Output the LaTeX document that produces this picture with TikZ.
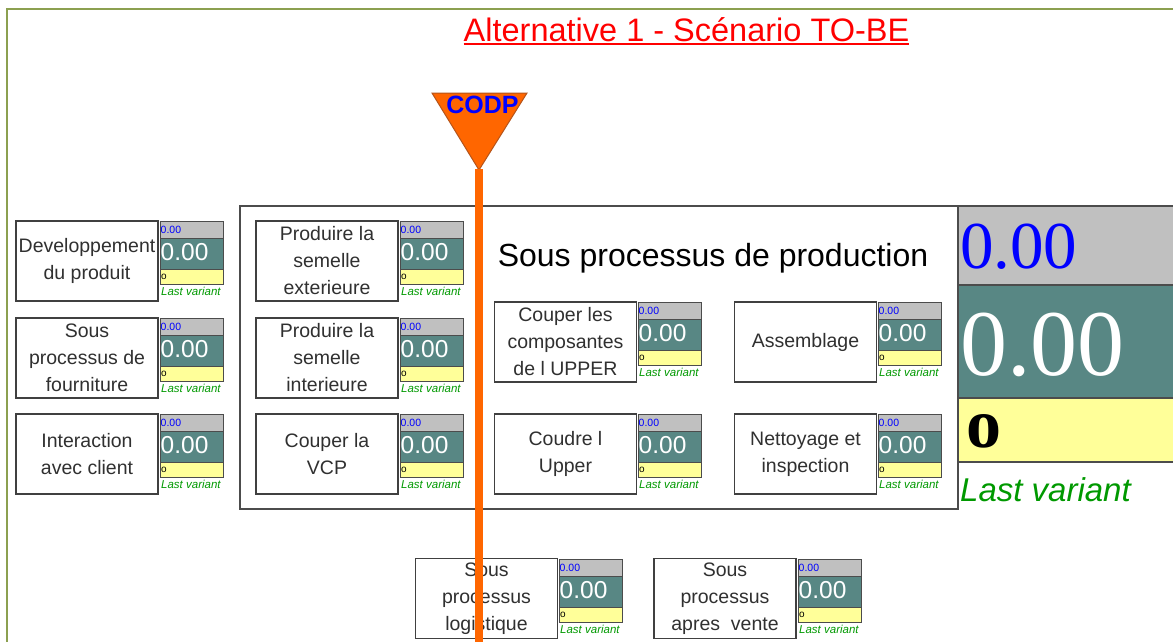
\documentclass[tikz,border=0pt]{standalone}
\usepackage{fontspec}
\setmainfont{Liberation Sans}
\newfontfamily\tmsfont{Liberation Serif}
\definecolor{olivebd}{HTML}{8CA050}
\definecolor{kteal}{HTML}{588784}
\definecolor{kgray}{HTML}{C0C0C0}
\definecolor{kyel}{HTML}{FFFF99}
\definecolor{kgreen}{HTML}{009900}
\definecolor{codporange}{HTML}{FF6600}
\definecolor{codpedge}{HTML}{B5541A}
\definecolor{boxtext}{HTML}{303030}
\newcommand{\kpi}[3]{%
  \path[draw=black!70,line width=0.9pt,fill=kgray] (#2,#3) rectangle (#2+63,#3+17);
  \path[draw=black!70,line width=0.9pt,fill=kteal] (#2,#3+17) rectangle (#2+63,#3+48);
  \path[draw=black!70,line width=0.9pt,fill=kyel] (#2,#3+48) rectangle (#2+63,#3+63);
  \node[kpitxt,font=\fontsize{10.5}{12}\selectfont,text=blue] (#1a) at (#2+0.5,#3+12) {0.00};
  \node[kpitxt,font=\fontsize{24.5}{28}\selectfont,text=white] (#1b) at (#2+0.5,#3+39.5) {0.00};
  \node[kpitxt,font=\fontsize{10}{12}\selectfont,text=black] (#1c) at (#2+1,#3+58) {o};
  \node[kpitxt,font=\fontsize{11.5}{13}\selectfont\itshape,text=kgreen] (#1d) at (#2+1,#3+74) {Last variant};
}
\begin{document}
\begin{tikzpicture}[x=1pt,y=-1pt,
  procbox/.style={draw=black!75,line width=1.3pt,fill=white,minimum width=142pt,minimum height=80pt,
    inner sep=0pt,align=center,text=boxtext,font=\fontsize{19.5}{27}\selectfont},
  kpitxt/.style={anchor=base west,inner sep=0pt}]
\useasboundingbox (0,0) rectangle (1173,641);
\fill[white] (0,0) rectangle (1173,641);
% border
\draw[olivebd,line width=2.5pt] (1174,9) -- (7,9) -- (7,642);
% title
\node[anchor=base,inner sep=0pt,text=red,font=\fontsize{32.5}{36}\selectfont] (title) at (686.5,41) {Alternative 1 - Scénario TO-BE};
\draw[red,line width=1.5pt] ([yshift=-3pt]title.base west) -- ([yshift=-3pt]title.base east);
% production frame
\node[draw=black!70,line width=1.3pt,minimum width=718pt,minimum height=303pt,inner sep=0pt] (prod) at (599,357.5) {};
\node[anchor=base,inner sep=0pt,font=\fontsize{32}{36}\selectfont] (prodtitle) at (713,266) {Sous processus de production};
% big indicator
\path[draw=black!70,line width=1.2pt,fill=kgray] (958,206) rectangle (1175,285);
\path[draw=black!70,line width=1.2pt,fill=kteal] (958,285) rectangle (1175,398);
\path[draw=black!70,line width=1.2pt,fill=kyel] (958,398) rectangle (1175,462);
\node[kpitxt,font=\tmsfont\fontsize{67}{70}\selectfont,text=blue] (bigA) at (960,268) {0.00};
\node[kpitxt,font=\tmsfont\fontsize{94}{96}\selectfont,text=white] (bigB) at (960,375) {0.00};
\node[kpitxt,font=\tmsfont\bfseries\fontsize{70}{72}\selectfont,text=black] (bigC) at (966,447) {o};
\node[kpitxt,font=\fontsize{33}{36}\selectfont\itshape,text=kgreen] (bigD) at (960,501) {Last variant};
% left column
\node[procbox] (dev) at (87,261) {Developpement\\du produit};
\kpi{kdev}{160}{221}
\node[procbox] (four) at (87,358) {Sous\\processus de\\fourniture};
\kpi{kfour}{160}{318}
\node[procbox] (inter) at (87,454) {Interaction\\avec client};
\kpi{kinter}{160}{414}
% middle column
\node[procbox] (ext) at (327,261) {Produire la\\semelle\\exterieure};
\kpi{kext}{400}{221}
\node[procbox] (int) at (327,358) {Produire la\\semelle\\interieure};
\kpi{kint}{400}{318}
\node[procbox] (vcp) at (327,454) {Couper la\\VCP};
\kpi{kvcp}{400}{414}
% right part
\node[procbox] (coup) at (565.5,342) {Couper les\\composantes\\de l UPPER};
\kpi{kcoup}{638}{302}
\node[procbox] (ass) at (805.5,342) {Assemblage};
\kpi{kass}{878}{302}
\node[procbox] (coud) at (565.5,454) {Coudre l\\Upper};
\kpi{kcoud}{638}{414}
\node[procbox] (net) at (805.5,454) {Nettoyage et\\inspection};
\kpi{knet}{878}{414}
% bottom
\node[procbox] (log) at (486.5,598.5) {Sous\\processus\\logistique};
\kpi{klog}{559}{559}
\node[procbox] (apv) at (725,598.5) {Sous\\processus\\apres\ \ vente};
\kpi{kapv}{798}{559}
% CODP
\draw[fill=codporange,draw=codpedge,line width=1pt] (432,93) -- (527,93) -- (479,170) -- cycle;
\node[anchor=base,inner sep=0pt,text=blue,font=\bfseries\fontsize{25}{28}\selectfont] (codp) at (482.5,113) {CODP};
\coordinate (codptip) at (479,169);
\coordinate (lineend) at (479,642);
\draw[codporange,line width=8pt] (codptip) -- (lineend);
\end{tikzpicture}
\end{document}
